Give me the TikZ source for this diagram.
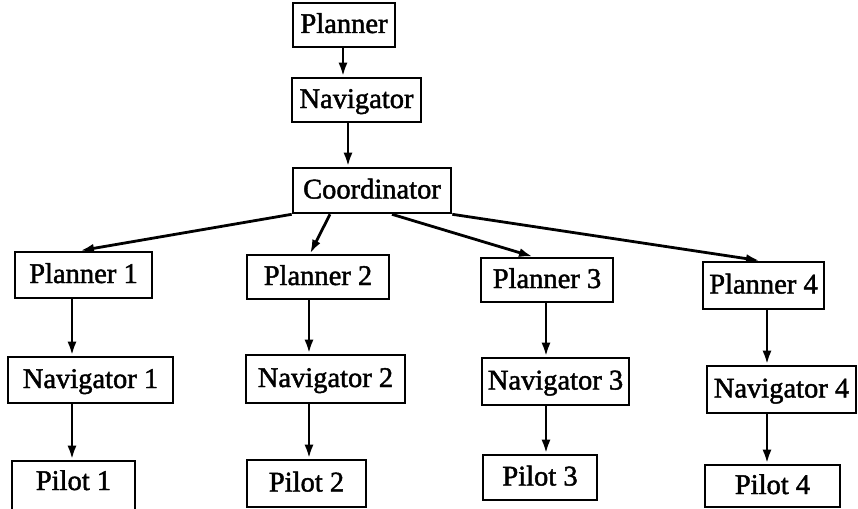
\documentclass[tikz,border=0pt]{standalone}
\usepackage{fontspec}
\setmainfont{Liberation Serif}[BoldFont=Liberation Serif,BoldFeatures={FakeBold=1.6}]
\usetikzlibrary{arrows.meta}
\newcommand\mkbox[7][]{\node[boxnode,#1,minimum width={(#5-#3)*1pt},minimum height={(#6-#4)*1pt}] (#2) at ({(#3+#5)/2},{(#4+#6)/2}) {#7};}
\begin{document}
\begin{tikzpicture}[x=1pt,y=-1pt,
  boxnode/.style={draw,line width=2.6pt,inner sep=0pt,font=\fontsize{28.5}{30}\selectfont\bfseries,
    text height=22pt,text depth=6pt},
  arr/.style={line width=2.8pt,-{Latex[length=14pt,width=9pt]}}]
\fill[white] (0,0) rectangle (858,508);
\clip (0,0) rectangle (858,508);
% top chain
\mkbox{planner}{293}{3}{395}{47}{Planner}
\mkbox{nav}{292}{78}{421}{122}{Navigator}
\mkbox{coord}{293}{168}{451}{213}{Coordinator}
% column 1
\mkbox{p1}{15}{252}{152}{298}{Planner 1}
\mkbox{n1}{8}{357}{173}{403}{Navigator 1}
\mkbox[text depth=23pt]{pi1}{12}{461}{135}{520}{Pilot 1}
% column 2
\mkbox{p2}{247}{255}{389}{299}{Planner 2}
\mkbox{n2}{246}{355}{405}{403}{Navigator 2}
\mkbox{pi2}{247}{460}{366}{507}{Pilot 2}
% column 3
\mkbox{p3}{481}{258}{613}{302}{Planner 3}
\mkbox{n3}{482}{358}{629}{405}{Navigator 3}
\mkbox{pi3}{483}{455}{597}{500}{Pilot 3}
% column 4
\mkbox{p4}{703}{262}{824}{309}{Planner 4}
\mkbox{n4}{707}{366}{856}{413}{Navigator 4}
\mkbox{pi4}{705}{465}{840}{507}{Pilot 4}
% helper x positions
\coordinate (t1) at (343,0);
\coordinate (t2) at (348,0);
\coordinate (s2) at (330,0);
\coordinate (s3) at (392,0);
\coordinate (e1) at (80,0);
\coordinate (e2) at (310,0);
\coordinate (e3) at (533,0);
\coordinate (e4) at (760,0);
\coordinate (c1) at (72,0);
\coordinate (c2) at (309,0);
\coordinate (c3) at (546,0);
\coordinate (c4) at (767,0);
% arrows
\draw[arr] (planner.south -| t1) -- (nav.north -| t1);
\draw[arr] (nav.south -| t2) -- (coord.north -| t2);
\draw[arr] (coord.south west) -- (p1.north -| e1);
\draw[arr] (coord.south -| s2) -- (p2.north -| e2);
\draw[arr] (coord.south -| s3) -- (p3.north -| e3);
\draw[arr] (coord.south east) -- (p4.north -| e4);
\draw[arr] (p1.south -| c1) -- (n1.north -| c1);
\draw[arr] (n1.south -| c1) -- (pi1.north -| c1);
\draw[arr] (p2.south -| c2) -- (n2.north -| c2);
\draw[arr] (n2.south -| c2) -- (pi2.north -| c2);
\draw[arr] (p3.south -| c3) -- (n3.north -| c3);
\draw[arr] (n3.south -| c3) -- (pi3.north -| c3);
\draw[arr] (p4.south -| c4) -- (n4.north -| c4);
\draw[arr] (n4.south -| c4) -- (pi4.north -| c4);
\end{tikzpicture}
\end{document}
